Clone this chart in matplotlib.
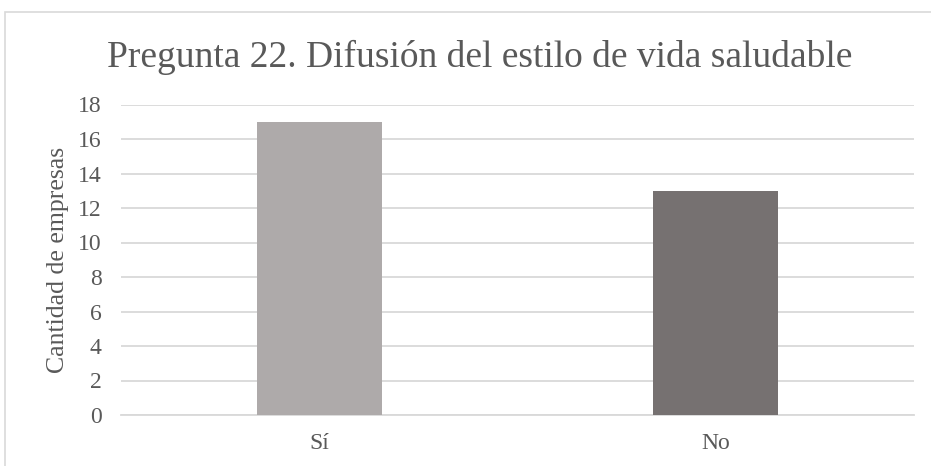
import matplotlib.pyplot as plt
from matplotlib.patches import Rectangle

categories = ['Sí', 'No']
values = [17, 13]
bar_colors = ['#AEAAAA', '#767171']
yticks = list(range(0, 19, 2))

plt.rcParams['font.family'] = ['Liberation Serif', 'DejaVu Serif']
text_color = '#595959'
grid_color = '#D9D9D9'

fig = plt.figure(figsize=(9.31, 4.66), dpi=100)
ax = fig.add_axes([121 / 931, 1 - 415 / 466, (914 - 121) / 931, (415 - 104.5) / 466])

# chart area border (right/bottom cut off in the original)
fig.patches.append(Rectangle((4.5 / 931, -0.1), 1.2, 1 - 11.5 / 466 + 0.1,
                             transform=fig.transFigure, fill=False,
                             edgecolor=grid_color, linewidth=1.2))

x = range(len(categories))
ax.bar(x, values, width=0.315, color=bar_colors, zorder=3)

ax.set_xlim(-0.5, 1.5)
ax.set_ylim(0, 18)
ax.set_yticks(yticks)
ax.set_xticks(list(x))
ax.set_xticklabels(categories)
ax.yaxis.grid(True, color=grid_color, linewidth=1.3, zorder=0)
for s in ['top', 'right', 'left']:
    ax.spines[s].set_visible(False)
ax.spines['bottom'].set_color(grid_color)
ax.spines['bottom'].set_linewidth(1.3)
ax.tick_params(axis='both', length=0, colors=text_color, labelsize=17)
ax.tick_params(axis='y', pad=14)
ax.tick_params(axis='x', pad=13)
ax.set_ylabel('Cantidad de empresas', color=text_color, fontsize=18.5, labelpad=6)

fig.text(0.515, 1 - 57 / 466, 'Pregunta 22. Difusión del estilo de vida saludable',
         ha='center', va='center', fontsize=27, color=text_color)

fig.savefig('out.png', dpi=100)
